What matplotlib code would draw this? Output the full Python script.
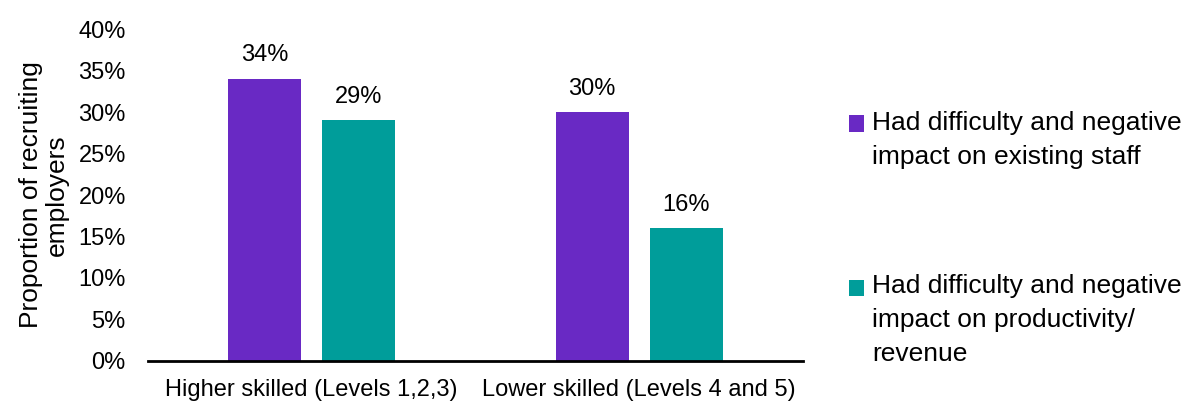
import numpy as np
import matplotlib
matplotlib.use("Agg")
import matplotlib.pyplot as plt
from matplotlib.patches import Rectangle
from matplotlib.container import BarContainer
from matplotlib.legend_handler import HandlerPatch
from matplotlib.ticker import PercentFormatter

plt.rcParams['font.family'] = ['Liberation Sans', 'DejaVu Sans']

# data
categories = ['Higher skilled (Levels 1,2,3)', 'Lower skilled (Levels 4 and 5)']
series_names = ['Had difficulty and negative\nimpact on existing staff',
                'Had difficulty and negative\nimpact on productivity/\nrevenue']
staff_vals = [34, 30]
productivity_vals = [29, 16]
colors = ['#6929C4', '#009D9A']

LEG_SIZE = 19
LEG_SPACING = 1.52


# legend square sits next to the first line of a multi-line label
def top_square(legend, orig_handle, xdescent, ydescent, width, height, fontsize):
    n = orig_handle.get_label().count('\n')
    shift = n * 0.5 * LEG_SPACING * fontsize * 0.815
    return Rectangle((-xdescent, -ydescent + shift), width, height)


def copy_first(tgt, src):
    tgt.update_from(src.patches[0])


fig = plt.figure(figsize=(11.84, 4.05), dpi=100)
ax = fig.add_axes([0.125, 0.109, 0.553, 0.819])

x = np.arange(len(categories))
w = 0.223
off = 0.1435
b1 = ax.bar(x - off, staff_vals, w, color=colors[0], label=series_names[0])
b2 = ax.bar(x + off, productivity_vals, w, color=colors[1], label=series_names[1])

for bars in (b1, b2):
    for r in bars:
        ax.annotate(f'{r.get_height():.0f}%', (r.get_x() + r.get_width() / 2, r.get_height()),
                    xytext=(0, 9), textcoords='offset points', ha='center', va='bottom', fontsize=17)

ax.set_xlim(-0.5, 1.5)
ax.set_ylim(0, 40)
ax.set_yticks(np.arange(0, 41, 5))
ax.yaxis.set_major_formatter(PercentFormatter(decimals=0))
ax.set_xticks(x)
ax.set_xticklabels(categories)
ax.tick_params(axis='both', length=0, labelsize=17)
ax.tick_params(axis='x', pad=13)
ax.tick_params(axis='y', pad=16)
for s in ['top', 'right', 'left']:
    ax.spines[s].set_visible(False)
ax.spines['bottom'].set_linewidth(2)
ax.spines['bottom'].set_color('black')

ax.set_ylabel('Proportion of recruiting\nemployers', fontsize=19, labelpad=7, linespacing=1.1)

leg = fig.legend(loc='upper left', bbox_to_anchor=(0.697, 0.785), frameon=False, fontsize=LEG_SIZE,
                 handlelength=0.57, handleheight=0.57, handletextpad=0.3, labelspacing=4.0,
                 handler_map={BarContainer: HandlerPatch(patch_func=top_square, update_func=copy_first)})
for t in leg.get_texts():
    t.set_linespacing(LEG_SPACING)

fig.savefig('out.png', dpi=100)
